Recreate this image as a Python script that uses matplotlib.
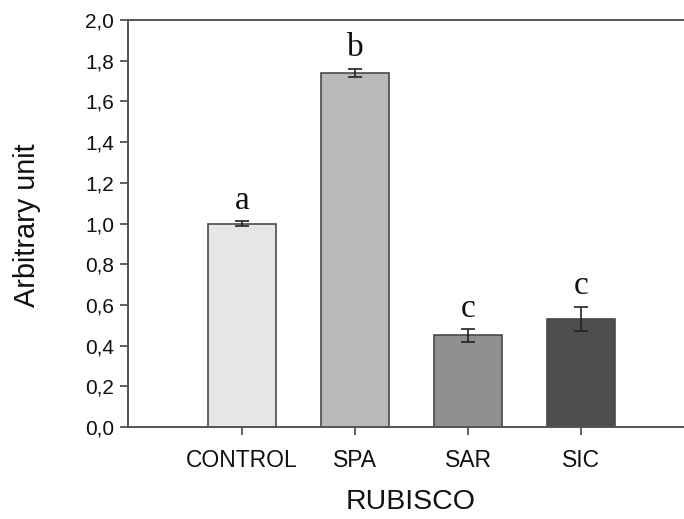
import matplotlib
matplotlib.use("Agg")
import matplotlib.pyplot as plt
import numpy as np

categories = ["CONTROL", "SPA", "SAR", "SIC"]
values = [1.00, 1.74, 0.45, 0.53]
errors = [0.01, 0.02, 0.03, 0.06]
letters = ["a", "b", "c", "c"]
colors = ["#e5e6e8", "#b8b9bb", "#8f9092", "#4c4d4f"]

plt.rcParams['font.family'] = ['Liberation Sans', 'DejaVu Sans']

W, H = 684, 519
fig = plt.figure(figsize=(W / 100, H / 100), dpi=100)

# axes runs past the right edge of the figure, like the cropped original
left, right, top, bottom = 128, 720, 20, 427
ax = fig.add_axes([left / W, 1 - bottom / H, (right - left) / W, (bottom - top) / H])

x = np.arange(len(categories))
x0, step = 241.8, 113.2
ax.set_xlim(-(x0 - left) / step, (right - x0) / step)
ax.set_ylim(0, 2.0)

ax.bar(x, values, width=0.6, color=colors, edgecolor="#4a4a4a", linewidth=1.2, zorder=2)
ax.errorbar(x, values, yerr=errors, fmt="none", ecolor="#222222",
            elinewidth=1.2, capsize=5, capthick=1.2, zorder=3)

for xi, v, e, t in zip(x, values, errors, letters):
    ax.annotate(t, (xi, v + e), xytext=(0, 9), textcoords="offset points",
                ha="center", va="baseline", fontsize=24,
                family=["Liberation Serif", "DejaVu Serif"], color="#111111")

ax.set_xticks(x)
ax.set_xticklabels(categories, fontsize=16.5, color="#111111")
ax.set_yticks(np.arange(0, 2.01, 0.2))
ax.set_yticklabels([f"{v:.1f}".replace(".", ",") for v in np.arange(0, 2.01, 0.2)],
                   fontsize=15, color="#111111")
ax.tick_params(axis="both", direction="out", length=6, width=1.2, color="#444444")
ax.tick_params(axis="x", pad=10)
ax.tick_params(axis="y", pad=4)

for s in ax.spines.values():
    s.set_color("#555555")
    s.set_linewidth(1.4)
ax.spines["right"].set_visible(False)

fig.text(411 / W, 1 - 502 / H, "RUBISCO", ha="center", va="center", fontsize=20.5,
         color="#111111")
fig.text(27 / W, 1 - 225 / H, "Arbitrary unit", ha="center", va="center",
         rotation=90, fontsize=20.8, color="#111111")

fig.savefig("out.png", dpi=100)
